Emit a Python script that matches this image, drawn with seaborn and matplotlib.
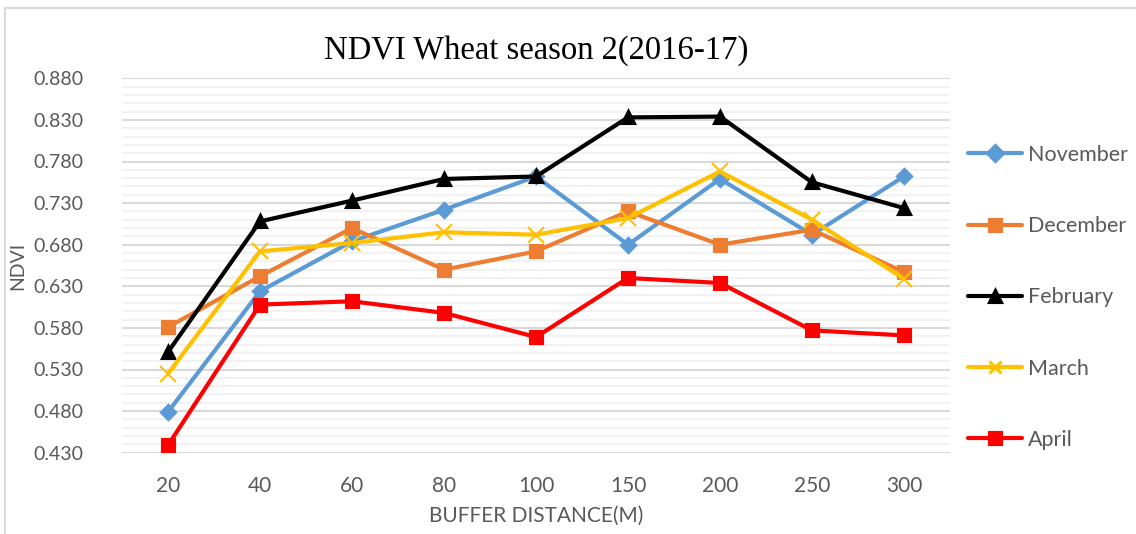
import numpy as np
import pandas as pd
import matplotlib.pyplot as plt
import seaborn as sns
from matplotlib.patches import Rectangle
from matplotlib.ticker import FixedLocator

# datos
distances = [20, 40, 60, 80, 100, 150, 200, 250, 300]
months = ["November", "December", "February", "March", "April"]
november = [0.479, 0.624, 0.684, 0.722, 0.762, 0.680, 0.759, 0.692, 0.762]
december = [0.581, 0.642, 0.700, 0.650, 0.672, 0.720, 0.680, 0.698, 0.647]
february = [0.551, 0.708, 0.733, 0.759, 0.762, 0.833, 0.834, 0.755, 0.724]
march = [0.525, 0.672, 0.682, 0.695, 0.692, 0.712, 0.768, 0.710, 0.639]
april = [0.439, 0.608, 0.612, 0.598, 0.569, 0.640, 0.634, 0.577, 0.571]
y_ticks = [0.430, 0.480, 0.530, 0.580, 0.630, 0.680, 0.730, 0.780, 0.830, 0.880]

colors = ["#5B9BD5", "#ED7D31", "#000000", "#FFC000", "#FF0000"]
markers = ["D", "s", "^", "x", "s"]

df = pd.DataFrame({
    "Distance": distances * 5,
    "NDVI": november + december + february + march + april,
    "Month": [m for m in months for _ in distances],
})

sns.set_style("white")
plt.rcParams["font.family"] = ["Lato", "DejaVu Sans"]

W, H = 1136, 534
fig = plt.figure(figsize=(W / 100, H / 100), dpi=100)
ax = fig.add_axes([122 / W, 1 - 452.7 / H, (950 - 122) / W, (452.7 - 78.3) / H])

sns.pointplot(data=df, x="Distance", y="NDVI", hue="Month", hue_order=months,
              palette=colors, markers=markers, linestyles="-", errorbar=None,
              markersize=9, linewidth=3, ax=ax)

# ajustar marcadores
for line, m in zip(ax.lines, markers):
    if m == "x":
        line.set_markeredgewidth(1.5)
        line.set_markersize(11)
    elif m == "D":
        line.set_markersize(7.5)

ax.set_ylim(0.43, 0.88)
ax.yaxis.set_major_locator(FixedLocator(y_ticks))
ax.yaxis.set_minor_locator(FixedLocator(np.arange(0.43, 0.8801, 0.01)))
ax.yaxis.set_major_formatter(plt.FuncFormatter(lambda v, p: f"{v:.3f}"))
ax.grid(which="major", axis="y", color="#d9d9d9", linewidth=1.5)
ax.grid(which="minor", axis="y", color="#f2f2f2", linewidth=1.5)
ax.grid(axis="x", visible=False)
ax.set_axisbelow(True)
for s in ax.spines.values():
    s.set_visible(False)
ax.tick_params(axis="both", which="both", length=0, labelsize=15, colors="#595959")
ax.tick_params(axis="y", labelsize=14, pad=28)
ax.tick_params(axis="x", pad=17)

ax.set_xlabel("BUFFER DISTANCE(M)", fontsize=15, color="#595959", labelpad=7)
ax.set_ylabel("NDVI", fontsize=14, color="#595959", labelpad=5)
ax.set_title("NDVI Wheat season 2(2016-17)", fontfamily="Liberation Serif",
             fontsize=23.5, color="#000000", pad=14)

handles, labels = ax.get_legend_handles_labels()
for h in handles:
    h.set_markersize(8)
ax.legend(handles, labels, loc="upper left", bbox_to_anchor=(968 / W, 1 - 145 / H),
          bbox_transform=fig.transFigure, frameon=False, fontsize=15.5,
          labelcolor="#595959", handlelength=2.5, handletextpad=0.3,
          labelspacing=2.38, borderaxespad=0, borderpad=0)

# borde del grafico
fig.add_artist(Rectangle((5 / W, -0.05), 1.2, 1 - 8 / H + 0.05, transform=fig.transFigure,
                         fill=False, edgecolor="#d9d9d9", linewidth=1.5))

plt.savefig("out.png", dpi=100)
